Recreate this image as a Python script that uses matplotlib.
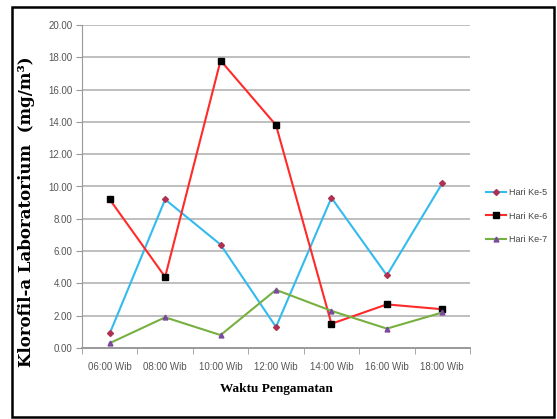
import matplotlib
matplotlib.use("Agg")
import matplotlib.pyplot as plt
from matplotlib.patches import Rectangle
import numpy as np

categories = ["06:00 Wib", "08:00 Wib", "10:00 Wib", "12:00 Wib", "14:00 Wib", "16:00 Wib", "18:00 Wib"]
hari5 = [0.9, 9.2, 6.4, 1.3, 9.3, 4.5, 10.2]
hari6 = [9.2, 4.4, 17.8, 13.8, 1.5, 2.7, 2.4]
hari7 = [0.3, 1.9, 0.8, 3.6, 2.3, 1.2, 2.2]
yticks = [0, 2, 4, 6, 8, 10, 12, 14, 16, 18, 20]

fig = plt.figure(figsize=(5.57, 4.19), dpi=100)
ax = fig.add_axes([82/557, 1-348/419, (470-82)/557, (348-25)/419])

x = np.arange(len(categories))
ax.plot(x, hari5, color="#33bbee", lw=1.5, marker="D", ms=3, mfc="#b03050", mec="#b03050", label="Hari Ke-5", zorder=3)
ax.plot(x, hari6, color="#ff2a2a", lw=1.5, marker="s", ms=4, mfc="black", mec="black", label="Hari Ke-6", zorder=3)
ax.plot(x, hari7, color="#77b040", lw=1.5, marker="^", ms=3.5, mfc="#7a4a9a", mec="#7a4a9a", label="Hari Ke-7", zorder=3)

ax.set_xlim(-0.5, len(categories) - 0.5)
ax.set_ylim(0, 20)
ax.set_yticks(yticks)
ax.set_yticklabels([f"{v:.2f}" for v in yticks], fontsize=7, color="#555555", family="Liberation Sans")
ax.set_xticks(x)
ax.set_xticklabels(categories, fontsize=7, color="#555555", family="Liberation Sans")
ax.tick_params(axis="x", length=0, pad=10)
ax.set_xticks(np.arange(-0.5, len(categories)), minor=True)
ax.tick_params(axis="x", which="minor", length=4, color="#999999", direction="out")
ax.tick_params(axis="y", length=4, color="#999999", pad=3)
ax.grid(axis="y", color="#bfbfbf", lw=1.4, zorder=0)
for s in ["top", "right"]:
    ax.spines[s].set_visible(False)
ax.spines["left"].set_color("#999999")
ax.spines["bottom"].set_color("#999999")
ax.spines["bottom"].set_linewidth(1.4)

ax.set_ylabel("Klorofil-a Laboratorium  (mg/m\u00b3)", fontsize=12, fontweight="bold", family="DejaVu Serif")
ax.yaxis.set_label_coords((35-82)/388, (348-212)/323)
ax.set_xlabel("Waktu Pengamatan", fontsize=9.5, fontweight="bold", family="Liberation Serif", labelpad=8)

leg = fig.legend(loc="center left", bbox_to_anchor=(478/557, 1-216/419), frameon=False,
                 prop={"family": "Liberation Sans", "size": 6.5}, handlelength=2.2, handletextpad=0.3,
                 labelspacing=1.6)
for t in leg.get_texts():
    t.set_color("#444444")

fig.patches.append(Rectangle((12/557, 2/419), 542/557, 410/419, transform=fig.transFigure,
                             fill=False, edgecolor="black", lw=1.8))

fig.savefig("out.png", dpi=100)
